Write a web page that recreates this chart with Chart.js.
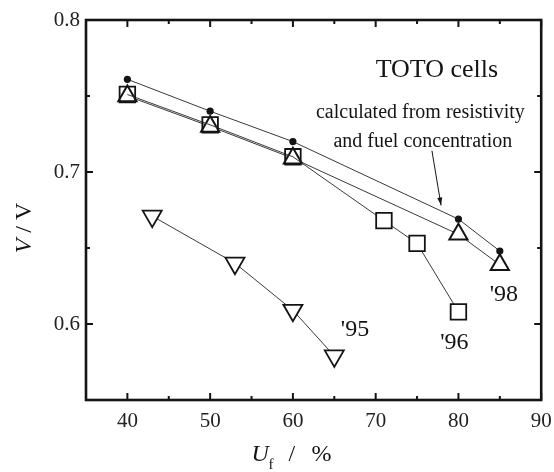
<!DOCTYPE html>
<html>
<head>
<meta charset="utf-8">
<script src="https://cdn.jsdelivr.net/npm/chart.js@4.4.1/dist/chart.umd.min.js"></script>
<style>
  html, body { margin: 0; padding: 0; background: #fff; }
  #wrap { width: 554px; height: 472px; }
</style>
</head>
<body>
<div id="wrap"><canvas id="chart" width="554" height="472"></canvas></div>
<script>
// calculated from resistivity and fuel concentration (filled dots)
const calcU = [40, 50, 60, 80, 85];
const calcV = [0.761, 0.740, 0.720, 0.669, 0.648];
// '98 cells (triangles)
const u98 = [40, 50, 60, 80, 85];
const v98 = [0.750, 0.730, 0.709, 0.659, 0.639];
// '96 cells (squares)
const u96 = [40, 50, 60, 71, 75, 80];
const v96 = [0.751, 0.731, 0.710, 0.668, 0.653, 0.608];
// '95 cells (down triangles)
const u95 = [43, 53, 60, 65];
const v95 = [0.671, 0.640, 0.609, 0.579];

const xTicks = [40, 50, 60, 70, 80, 90];
const xMinor = [45, 55, 65, 75, 85];
const yTicks = [0.6, 0.7, 0.8];
const yMinor = [0.65, 0.75];

const serif = "'Liberation Serif', 'Times New Roman', serif";
const ink = "#141414";
const clear = "rgba(255,255,255,0)";

function pts(xs, ys) {
  return xs.map((x, i) => ({ x: x, y: ys[i] }));
}

// box, inward ticks, annotations and axis titles
const decor = {
  id: "decor",
  afterDraw(chart) {
    const { ctx, chartArea: a } = chart;
    const x = chart.scales.x, y = chart.scales.y;
    ctx.save();
    ctx.strokeStyle = ink;
    ctx.lineWidth = 2;
    ctx.beginPath();
    xTicks.concat(xMinor).forEach((v) => {
      const len = xTicks.includes(v) ? 7 : 4;
      const px = x.getPixelForValue(v);
      ctx.moveTo(px, a.bottom); ctx.lineTo(px, a.bottom - len);
      ctx.moveTo(px, a.top); ctx.lineTo(px, a.top + len);
    });
    yTicks.concat(yMinor).forEach((v) => {
      const len = yTicks.includes(v) ? 7 : 4;
      const py = y.getPixelForValue(v);
      ctx.moveTo(a.left, py); ctx.lineTo(a.left + len, py);
      ctx.moveTo(a.right, py); ctx.lineTo(a.right - len, py);
    });
    ctx.stroke();

    ctx.lineWidth = 2.6;
    ctx.strokeRect(a.left, a.top, a.right - a.left, a.bottom - a.top);

    // annotations
    ctx.fillStyle = ink;
    ctx.textAlign = "center";
    ctx.textBaseline = "middle";
    ctx.font = "26px " + serif;
    ctx.fillText("TOTO cells", x.getPixelForValue(77.4), y.getPixelForValue(0.767));
    ctx.font = "20px " + serif;
    ctx.fillText("calculated from resistivity", x.getPixelForValue(75.4), y.getPixelForValue(0.739));
    ctx.fillText("and fuel concentration", x.getPixelForValue(75.7), y.getPixelForValue(0.720));
    ctx.font = "24px " + serif;
    ctx.fillText("'95", x.getPixelForValue(67.5), y.getPixelForValue(0.596));
    ctx.fillText("'96", x.getPixelForValue(79.5), y.getPixelForValue(0.588));
    ctx.fillText("'98", x.getPixelForValue(85.5), y.getPixelForValue(0.619));

    // arrow
    const x1 = x.getPixelForValue(76.8), y1 = y.getPixelForValue(0.714);
    const x2 = x.getPixelForValue(77.9), y2 = y.getPixelForValue(0.678);
    const ang = Math.atan2(y2 - y1, x2 - x1);
    ctx.lineWidth = 1;
    ctx.beginPath();
    ctx.moveTo(x1, y1); ctx.lineTo(x2, y2);
    ctx.stroke();
    ctx.beginPath();
    ctx.moveTo(x2, y2);
    ctx.lineTo(x2 - 8 * Math.cos(ang) + 2.5 * Math.sin(ang), y2 - 8 * Math.sin(ang) - 2.5 * Math.cos(ang));
    ctx.lineTo(x2 - 8 * Math.cos(ang) - 2.5 * Math.sin(ang), y2 - 8 * Math.sin(ang) + 2.5 * Math.cos(ang));
    ctx.closePath();
    ctx.fill();

    // y title: V / V
    ctx.save();
    ctx.translate(a.left - 61, (a.top + a.bottom) / 2 + 18);
    ctx.rotate(-Math.PI / 2);
    ctx.textAlign = "left";
    ctx.textBaseline = "middle";
    ctx.font = "italic 24px " + serif;
    const w1 = ctx.measureText("V").width;
    ctx.font = "24px " + serif;
    const w2 = ctx.measureText(" / V").width;
    const sx = -(w1 + w2) / 2;
    ctx.font = "italic 24px " + serif;
    ctx.fillText("V", sx, 0);
    ctx.font = "24px " + serif;
    ctx.fillText(" / V", sx + w1, 0);
    ctx.restore();

    // x title: U_f / %
    const ux = x.getPixelForValue(55);
    const by = a.bottom + 61;
    ctx.textAlign = "left";
    ctx.textBaseline = "alphabetic";
    ctx.font = "italic 24px " + serif;
    ctx.fillText("U", ux, by);
    ctx.font = "15px " + serif;
    ctx.fillText("f", ux + 17, by + 8);
    ctx.font = "24px " + serif;
    ctx.fillText("/", ux + 37, by);
    ctx.fillText("%", ux + 60, by);
    ctx.restore();
  }
};

new Chart(document.getElementById("chart"), {
  type: "scatter",
  data: {
    datasets: [
      {
        label: "calculated",
        data: pts(calcU, calcV),
        showLine: true,
        borderColor: "#3a3a3a",
        borderWidth: 1,
        pointStyle: "circle",
        pointRadius: 3.6,
        pointBackgroundColor: ink,
        pointBorderColor: ink,
        pointBorderWidth: 0,
      },
      {
        label: "'96",
        data: pts(u96, v96),
        showLine: true,
        borderColor: "#3a3a3a",
        borderWidth: 1,
        pointStyle: "rect",
        pointRadius: 11,
        pointBackgroundColor: [clear, clear, clear, "#fff", "#fff", "#fff"],
        pointBorderColor: ink,
        pointBorderWidth: 1.8,
      },
      {
        label: "'98",
        data: pts(u98, v98),
        showLine: true,
        borderColor: "#3a3a3a",
        borderWidth: 1,
        pointStyle: "triangle",
        pointRadius: 10.5,
        pointBackgroundColor: "#fff",
        pointBorderColor: ink,
        pointBorderWidth: 2,
      },
      {
        label: "'95",
        data: pts(u95, v95),
        showLine: true,
        borderColor: "#3a3a3a",
        borderWidth: 1,
        pointStyle: "triangle",
        rotation: 180,
        pointRadius: 11,
        pointBackgroundColor: "#fff",
        pointBorderColor: ink,
        pointBorderWidth: 1.8,
      },
    ],
  },
  options: {
    responsive: false,
    animation: false,
    devicePixelRatio: 1,
    layout: { padding: { top: 20, right: 9, left: 0, bottom: 0 } },
    plugins: { legend: { display: false }, tooltip: { enabled: false } },
    scales: {
      x: {
        type: "linear",
        min: 35,
        max: 90,
        grid: { display: false, drawTicks: false },
        border: { display: false },
        afterBuildTicks: (s) => { s.ticks = xTicks.map((v) => ({ value: v })); },
        afterFit: (s) => { s.height = 72; s.paddingLeft = 0; s.paddingRight = 0; },
        ticks: {
          font: { family: serif, size: 21 },
          color: "#222",
          padding: 9,
          maxRotation: 0,
          callback: (v) => String(v),
        },
      },
      y: {
        type: "linear",
        min: 0.55,
        max: 0.8,
        grid: { display: false, drawTicks: false },
        border: { display: false },
        afterBuildTicks: (s) => { s.ticks = yTicks.map((v) => ({ value: v })); },
        afterFit: (s) => { s.width = 86; },
        ticks: {
          font: { family: serif, size: 21 },
          color: "#222",
          padding: 6,
          callback: (v) => v.toFixed(1),
        },
      },
    },
  },
  plugins: [decor],
});
</script>
</body>
</html>
